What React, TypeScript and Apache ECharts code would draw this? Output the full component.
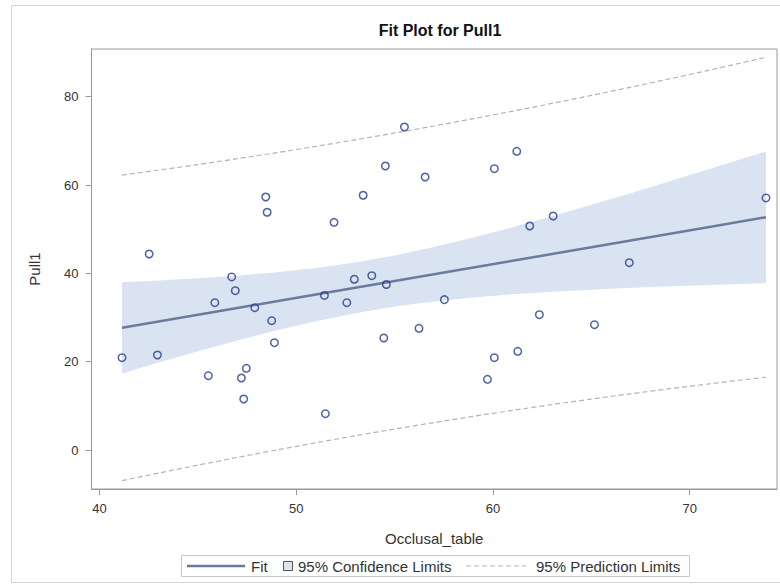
import React, { useEffect, useRef } from "react";
import * as echarts from "echarts";

// Observations (Occlusal_table, Pull1)
const occlusal = [41.14, 42.52, 42.94, 45.53, 45.86, 46.72, 46.9, 47.21, 47.33, 47.46, 47.89, 48.45, 48.52, 48.75, 48.89, 51.43, 51.48, 51.92, 52.57, 52.95, 53.4, 53.84, 54.45, 54.53, 54.58, 55.5, 56.24, 56.55, 57.53, 59.72, 60.07, 60.07, 61.21, 61.26, 61.87, 62.36, 63.06, 65.16, 66.93, 73.88];
const pull1 = [20.9, 44.38, 21.51, 16.83, 33.36, 39.18, 36.07, 16.3, 11.55, 18.5, 32.22, 57.29, 53.83, 29.28, 24.3, 34.99, 8.22, 51.56, 33.36, 38.66, 57.68, 39.47, 25.36, 64.31, 37.48, 73.14, 27.56, 61.82, 34.04, 16.01, 63.7, 20.9, 67.64, 22.35, 50.72, 30.64, 52.99, 28.37, 42.41, 57.07];

// Fit and limits read at these x positions
const bandX = [41.14, 43, 45, 47, 49, 51, 53, 55, 57, 59, 61, 63, 65, 67, 69, 71, 73.88];
const fitY = [27.66, 29.08, 30.61, 32.14, 33.67, 35.2, 36.73, 38.26, 39.79, 41.32, 42.85, 44.38, 45.91, 47.44, 48.97, 50.5, 52.7];
const clLower = [17.34, 19.79, 22.35, 24.8, 27.1, 29.18, 30.98, 32.47, 33.64, 34.55, 35.27, 35.84, 36.31, 36.72, 37.07, 37.39, 37.8];
const clUpper = [37.98, 38.37, 38.87, 39.48, 40.24, 41.22, 42.48, 44.05, 45.94, 48.09, 50.43, 52.92, 55.51, 58.16, 60.87, 63.61, 67.6];
const plLower = [-6.93, -5.22, -3.42, -1.68, 0.01, 1.64, 3.22, 4.74, 6.21, 7.62, 8.98, 10.28, 11.53, 12.73, 13.88, 14.98, 16.48];
const plUpper = [62.25, 63.38, 64.64, 65.96, 67.33, 68.76, 70.24, 71.78, 73.37, 75.02, 76.72, 78.48, 80.29, 82.15, 84.06, 86.02, 88.92];

const xTicks = [40, 50, 60, 70];
const yTicks = [0, 20, 40, 60, 80];

const FONT = "'Liberation Sans', Arial, sans-serif";
const FIT_COLOR = "#6b7b9b";
const BAND_COLOR = "#dae3f1";
const PL_COLOR = "#b4b4b4";
const MARKER_COLOR = "#263c88";
const TEXT_COLOR = "#333333";
const AXIS_COLOR = "#9a9a9a";

export default function App() {
  const ref = useRef<HTMLDivElement>(null);
  useEffect(() => {
    if (!ref.current) return;
    const chart = echarts.init(ref.current, undefined, { renderer: "svg" });
    const pts = occlusal.map((x, i) => [x, pull1[i]]);
    const pair = (ys: number[]) => bandX.map((x, i) => [x, ys[i]]);
    const bandData = bandX.map((x, i) => [x, clLower[i], clUpper[i]]);

    chart.setOption({
      animation: false,
      backgroundColor: "#ffffff",
      textStyle: { fontFamily: FONT },
      title: {
        text: "Fit Plot for Pull1",
        left: 435,
        top: 17,
        textAlign: "center",
        textStyle: { fontFamily: FONT, fontSize: 16, fontWeight: "bold", color: "#111" },
      },
      grid: {
        left: 91.5,
        top: 49,
        right: 3,
        bottom: 98,
        show: true,
        borderColor: AXIS_COLOR,
        borderWidth: 1,
        backgroundColor: "transparent",
      },
      xAxis: {
        type: "value",
        min: 39.59,
        max: 74.44,
        name: "Occlusal_table",
        nameLocation: "middle",
        nameGap: 42,
        nameTextStyle: { fontFamily: FONT, fontSize: 15, color: TEXT_COLOR },
        axisLine: { show: true, onZero: false, lineStyle: { color: AXIS_COLOR } },
        axisTick: { show: true, length: 6, lineStyle: { color: AXIS_COLOR }, customValues: xTicks },
        axisLabel: { fontFamily: FONT, fontSize: 13, color: TEXT_COLOR, margin: 13, customValues: xTicks },
        splitLine: { show: false },
      },
      yAxis: {
        type: "value",
        min: -8.83,
        max: 90.8,
        name: "Pull1",
        nameLocation: "middle",
        nameGap: 50,
        nameTextStyle: { fontFamily: FONT, fontSize: 15, color: TEXT_COLOR },
        axisLine: { show: true, onZero: false, lineStyle: { color: AXIS_COLOR } },
        axisTick: { show: true, length: 6, lineStyle: { color: AXIS_COLOR }, customValues: yTicks },
        axisLabel: { fontFamily: FONT, fontSize: 13, color: TEXT_COLOR, margin: 13, customValues: yTicks },
        splitLine: { show: false },
      },
      series: [
        {
          name: "95% Confidence Limits",
          type: "custom",
          data: bandData,
          silent: true,
          z: 1,
          renderItem: (params: any, api: any) => {
            if (params.dataIndex !== 0) return null;
            const upper = bandData.map((d) => api.coord([d[0], d[2]]));
            const lower = bandData.map((d) => api.coord([d[0], d[1]])).reverse();
            return {
              type: "polygon",
              shape: { points: upper.concat(lower), smooth: 0 },
              style: { fill: BAND_COLOR, stroke: "none" },
            };
          },
        },
        {
          name: "95% Prediction Limits",
          type: "line",
          data: pair(plUpper),
          symbol: "none",
          smooth: 0.3,
          lineStyle: { color: PL_COLOR, width: 1.2, type: [5, 3] },
          z: 2,
        },
        {
          name: "95% Prediction Limits (lower)",
          type: "line",
          data: pair(plLower),
          symbol: "none",
          smooth: 0.3,
          lineStyle: { color: PL_COLOR, width: 1.2, type: [5, 3] },
          z: 2,
        },
        {
          name: "Fit",
          type: "line",
          data: pair(fitY),
          symbol: "none",
          lineStyle: { color: FIT_COLOR, width: 2.5 },
          z: 3,
        },
        {
          name: "Pull1",
          type: "scatter",
          data: pts,
          symbol: "circle",
          symbolSize: 7.5,
          itemStyle: { color: "rgba(0,0,0,0)", borderColor: MARKER_COLOR, borderWidth: 1.5 },
          z: 4,
        },
      ],
      graphic: [
        {
          type: "rect",
          shape: { x: 11.5, y: 5.5, width: 800, height: 577 },
          style: { fill: "none", stroke: "#d4d4d4", lineWidth: 1 },
          silent: true,
          z: -10,
        },
        {
          type: "rect",
          shape: { x: 181.5, y: 555.5, width: 508, height: 21 },
          style: { fill: "#fff", stroke: "#c8c8c8", lineWidth: 1 },
        },
        {
          type: "line",
          shape: { x1: 187, y1: 566, x2: 245, y2: 566 },
          style: { stroke: FIT_COLOR, lineWidth: 2.5 },
        },
        {
          type: "text",
          x: 251,
          y: 566,
          style: { text: "Fit", font: `15px ${FONT}`, fill: TEXT_COLOR, verticalAlign: "middle" },
        },
        {
          type: "rect",
          shape: { x: 283.5, y: 561.5, width: 9, height: 9 },
          style: { fill: BAND_COLOR, stroke: "#555", lineWidth: 1 },
        },
        {
          type: "text",
          x: 298,
          y: 566,
          style: { text: "95% Confidence Limits", font: `15px ${FONT}`, fill: TEXT_COLOR, verticalAlign: "middle" },
        },
        {
          type: "line",
          shape: { x1: 466, y1: 566, x2: 526, y2: 566 },
          style: { stroke: PL_COLOR, lineWidth: 1.2, lineDash: [5, 3] },
        },
        {
          type: "text",
          x: 536,
          y: 566,
          style: { text: "95% Prediction Limits", font: `15px ${FONT}`, fill: TEXT_COLOR, verticalAlign: "middle" },
        },
      ],
    });
    return () => chart.dispose();
  }, []);

  return (
    <div
      ref={ref}
      style={{ position: "fixed", left: 0, top: 0, width: 780, height: 587, background: "#fff" }}
    />
  );
}
